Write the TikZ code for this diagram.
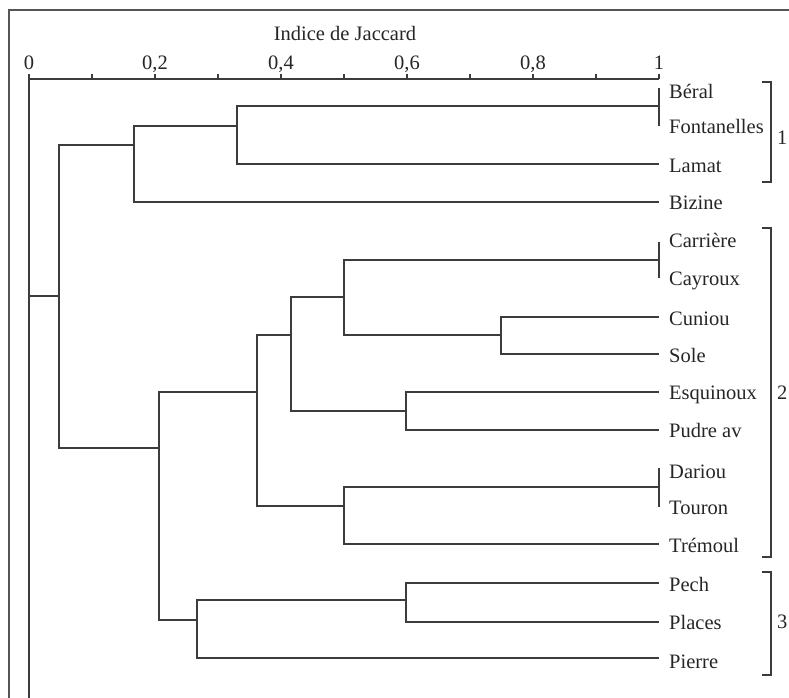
\documentclass[tikz,border=0pt]{standalone}
\usepackage{fontspec}
\setmainfont{Liberation Serif}
\definecolor{ink}{HTML}{262626}
\definecolor{linec}{HTML}{3C3C3C}
\definecolor{framec}{HTML}{555555}
\begin{document}
\begin{tikzpicture}[x=1pt,y=-1pt,
  txt/.style={inner sep=0pt, text=ink, font=\fontsize{20.5}{22}\selectfont},
  leaf/.style={txt, anchor=base west},
  ticklab/.style={txt, anchor=base},
  grouplab/.style={txt, anchor=west},
  link/.style={draw=linec, line width=1.5pt},
  axisline/.style={draw=linec, line width=1.5pt},
  frameline/.style={draw=framec, line width=2pt},
  bracket/.style={draw=linec, line width=1.7pt}]
\path[use as bounding box] (0,0) rectangle (789,698);
\clip (0,0) rectangle (789,698);
\fill[white] (0,0) rectangle (789,698);
% frame
\draw[frameline] (9,700) -- (9,10) -- (792,10);
% axis
\draw[axisline] (29,700) -- (29,79) -- (659,79);
\foreach \i in {0,...,10} \draw[axisline] ({29+63*\i},79) -- ({29+63*\i},74.5);
\node[txt, anchor=base] (title) at (345,41) {Indice de Jaccard};
\node[ticklab] (t0) at (29,70) {0};
\node[ticklab] (t2) at (155,70) {0,2};
\node[ticklab] (t4) at (281,70) {0,4};
\node[ticklab] (t6) at (407,70) {0,6};
\node[ticklab] (t8) at (533,70) {0,8};
\node[ticklab] (t10) at (659,70) {1};
% leaves
\node[leaf] (beral) at (669,99) {Béral};
\node[leaf] (fonta) at (669,133) {Fontanelles};
\node[leaf] (lamat) at (669,172) {Lamat};
\node[leaf] (bizine) at (669,209) {Bizine};
\node[leaf] (carr) at (669,247) {Carrière};
\node[leaf] (cayr) at (669,285) {Cayroux};
\node[leaf] (cuni) at (669,325) {Cuniou};
\node[leaf] (sole) at (669,362) {Sole};
\node[leaf] (esqu) at (669,399) {Esquinoux};
\node[leaf] (pudr) at (669,437) {Pudre av};
\node[leaf] (dari) at (669,478) {Dariou};
\node[leaf] (tour) at (669,514) {Touron};
\node[leaf] (trem) at (669,552) {Trémoul};
\node[leaf] (pech) at (669,591) {Pech};
\node[leaf] (plac) at (669,629) {Places};
\node[leaf] (pier) at (669,668) {Pierre};
% dendrogram, group 1
\draw[link] (659,88) -- (659,126);
\draw[link] (659,106) -- (237,106) |- (659,164);
\draw[link] (237,126) -- (134,126) |- (659,202);
\draw[link] (134,145) -- (59,145) |- (159,448);
\draw[link] (29,296) -- (59,296);
% group 2
\draw[link] (659,242) -- (659,278);
\draw[link] (659,260) -- (344,260) |- (501,335);
\draw[link] (659,317) -- (501,317) |- (659,354);
\draw[link] (344,297) -- (291,297) |- (406,411);
\draw[link] (659,392) -- (406,392) |- (659,430);
\draw[link] (291,335) -- (257,335) |- (344,506);
\draw[link] (659,468) -- (659,507);
\draw[link] (659,487) -- (344,487) |- (659,544);
\draw[link] (257,392) -- (159,392) |- (197,620);
% group 3
\draw[link] (659,583) -- (406,583) |- (659,622);
\draw[link] (406,600) -- (197,600) |- (659,658);
% brackets
\draw[bracket] (762,82) -- (771,82) -- (771,182) -- (762,182);
\draw[bracket] (762,228) -- (771,228) -- (771,557) -- (762,557);
\draw[bracket] (762,572) -- (771,572) -- (771,675) -- (762,675);
\node[grouplab] (g1) at (777,138) {1};
\node[grouplab] (g2) at (777,393) {2};
\node[grouplab] (g3) at (777,622) {3};
\end{tikzpicture}
\end{document}
